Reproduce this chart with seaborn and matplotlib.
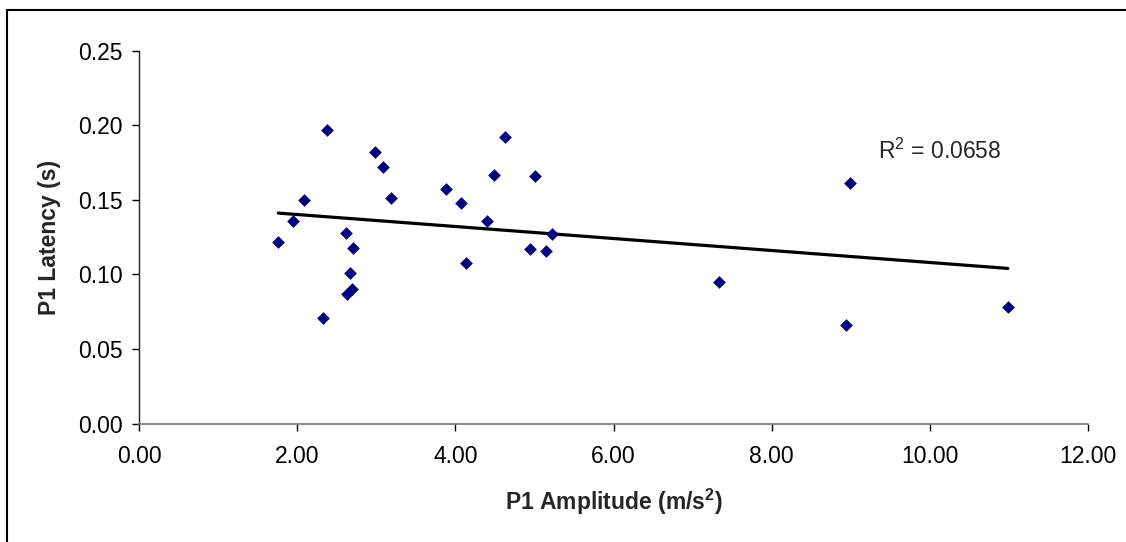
import numpy as np
import pandas as pd
import matplotlib
matplotlib.use('Agg')
import matplotlib.pyplot as plt
from matplotlib.patches import Rectangle
from matplotlib.ticker import FormatStrFormatter
import seaborn as sns

sns.set_style('white')
plt.rcParams['font.family'] = ['Liberation Sans', 'DejaVu Sans']
plt.rcParams['mathtext.fontset'] = 'custom'
plt.rcParams['mathtext.rm'] = 'Liberation Sans'
plt.rcParams['mathtext.bf'] = 'Liberation Sans:bold'

# P1 amplitude (m/s^2) and latency (s)
amplitude = [1.76, 1.95, 2.09, 2.33, 2.38, 2.61, 2.63, 2.66, 2.69, 2.70,
             2.98, 3.08, 3.18, 3.88, 4.07, 4.14, 4.40, 4.49, 4.63, 4.94,
             5.01, 5.15, 5.22, 7.34, 8.94, 8.99, 10.99]
latency = [0.122, 0.136, 0.150, 0.071, 0.197, 0.128, 0.087, 0.101, 0.090, 0.118,
           0.182, 0.172, 0.151, 0.157, 0.148, 0.108, 0.136, 0.167, 0.192, 0.117,
           0.166, 0.116, 0.127, 0.095, 0.066, 0.161, 0.078]
r2_label = 'R$^2$ = 0.0658'

df = pd.DataFrame({'amp': amplitude, 'lat': latency})

fig = plt.figure(figsize=(11.26, 5.42), dpi=100)
ax = fig.add_axes([0.1237, 0.2183, 0.8423, 0.6882])

sns.scatterplot(data=df, x='amp', y='lat', marker='D', s=42, color='#000080',
                linewidth=0, ax=ax, zorder=3)
sns.regplot(data=df, x='amp', y='lat', scatter=False, ci=None, truncate=True,
            line_kws={'color': 'black', 'lw': 2.3}, ax=ax)

ax.set_xlim(0, 12)
ax.set_ylim(0, 0.25)
ax.set_xticks(np.arange(0, 12.1, 2))
ax.set_yticks(np.arange(0, 0.251, 0.05))
ax.xaxis.set_major_formatter(FormatStrFormatter('%.2f'))
ax.yaxis.set_major_formatter(FormatStrFormatter('%.2f'))
ax.tick_params(axis='both', labelsize=16.5, length=5, width=1, direction='out',
               bottom=True, left=True, colors='black')
ax.tick_params(axis='x', pad=10)
ax.tick_params(axis='y', pad=7)

for s in ['top', 'right']:
    ax.spines[s].set_visible(False)
ax.spines['left'].set_color('#222222')
ax.spines['bottom'].set_color('#777777')
ax.spines['left'].set_linewidth(1)
ax.spines['bottom'].set_linewidth(1.2)

ax.set_xlabel('P1 Amplitude (m/s$^\\mathbf{2}$)', fontsize=16.5, fontweight='bold', labelpad=14)
ax.set_ylabel('P1 Latency (s)', fontsize=16.5, fontweight='bold', labelpad=12)

ax.text(9.35, 0.1774, r2_label, fontsize=16.5, va='baseline', ha='left')

# outer chart frame
fig.patches.append(Rectangle((7 / 1126, -0.1), 1.2, 1.1 - 10 / 542, transform=fig.transFigure,
                             fill=False, edgecolor='black', lw=1.5))

fig.savefig('out.png', dpi=100)
